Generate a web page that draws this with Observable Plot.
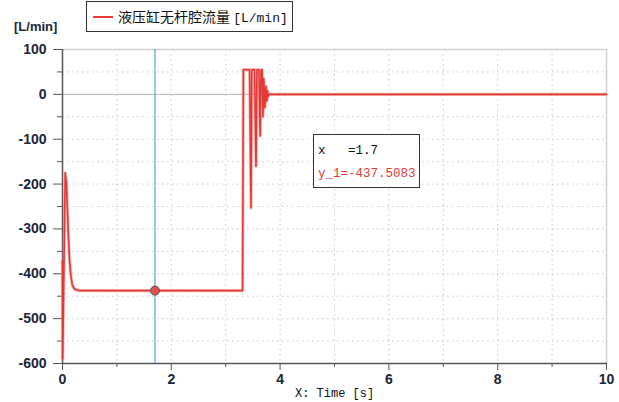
<!DOCTYPE html>
<html>
<head>
<meta charset="utf-8">
<script src="https://cdn.jsdelivr.net/npm/d3@7"></script>
<script src="https://cdn.jsdelivr.net/npm/@observablehq/plot@0.6"></script>
<style>
  body { margin: 0; background: #fff; }
  #wrap { position: relative; width: 619px; height: 402px; overflow: hidden; }
  #wrap svg { position: absolute; left: 0; top: 0; }
  .ov { position: absolute; white-space: nowrap; }
  #legend { left: 86px; top: 1px; width: 207px; height: 31px; border: 1px solid #333; background: #fff; box-sizing: border-box; }
  #legend .sw { position: absolute; left: 6px; top: 14px; width: 20px; height: 2px; background: #e53935; }
  #legend .tx { position: absolute; left: 31px; top: 5px; font: 14px "Noto Sans CJK SC", sans-serif; line-height: 18px; color: #111; }
  #legend .tx span { font: 13px "Liberation Mono", monospace; }
  #unit { left: 14px; top: 19px; font: bold 13px "Liberation Sans", Arial, sans-serif; color: #1b2636; }
  #xlabel { left: 295px; top: 388px; font: 12px "Liberation Mono", monospace; color: #111; line-height: 13px; }
  #cursor { left: 313px; top: 134px; width: 107px; height: 54px; border: 1px solid #333; background: #fff; box-sizing: border-box; font: 12.5px "Liberation Mono", monospace; line-height: 15px; }
  #cursor .l1 { position: absolute; left: 4px; top: 9px; color: #111; }
  #cursor .l2 { position: absolute; left: 4px; top: 32px; color: #e53935; }
</style>
</head>
<body>
<div id="wrap"></div>
<script>
// time [s]
const time = [0, 0.003, 0.05, 0.07, 0.09, 0.11, 0.13, 0.15, 0.18, 0.22, 0.3,
  3.31, 3.325, 3.44, 3.465, 3.48, 3.53, 3.557, 3.575, 3.61, 3.634, 3.65, 3.67,
  3.685, 3.70, 3.72, 3.74, 3.757, 3.77, 3.78, 3.80, 10];
// 液压缸无杆腔流量 [L/min]
const flow = [-370, -590, -175, -195, -255, -320, -370, -400, -425, -434, -437.5,
  -437.5, 55, 55, -253, 55, 55, -160, 55, 55, -93, 55, 55,
  -50, 35, -30, 18, -15, 8, -5, 0, 0];
const cursorX = [1.7];
const cursorY = [-437.5083];
const yMajor = [-600, -500, -400, -300, -200, -100, 0, 100];
const yMinor = [-550, -450, -350, -250, -150, -50, 50];
const xMajor = [0, 2, 4, 6, 8, 10];
const xMinor = [1, 3, 5, 7, 9];
const seriesName = "液压缸无杆腔流量";
const unit = "[L/min]";

const data = time.map((t, i) => ({t, v: flow[i]}));
const gridCol = "#c8c8c8";
const axisCol = "#555";

const chart = Plot.plot({
  width: 619,
  height: 402,
  marginTop: 49,
  marginBottom: 39,
  marginLeft: 62,
  marginRight: 13,
  x: {domain: [0, 10]},
  y: {domain: [-600, 100]},
  style: {fontFamily: "'Liberation Sans', Arial, sans-serif", fontSize: "14px", fontWeight: "bold", color: "#1b2636", background: "transparent"},
  marks: [
    Plot.ruleY([...yMajor, ...yMinor].filter(d => d !== 0 && d !== 100 && d !== -600), {stroke: gridCol, strokeDasharray: "1.5,3.5", strokeOpacity: 1}),
    Plot.ruleX([...xMajor, ...xMinor].filter(d => d !== 0 && d !== 10), {stroke: gridCol, strokeDasharray: "1.5,3.5", strokeOpacity: 1}),
    Plot.ruleY([0], {stroke: "#b4b4b4", strokeWidth: 1}),
    Plot.ruleY([100], {stroke: "#d0d0d0", strokeWidth: 1.5}),
    Plot.ruleX([10], {stroke: "#d0d0d0", strokeWidth: 1.5}),
    Plot.axisY({ticks: yMinor, tickSize: 5, text: null, stroke: axisCol}),
    Plot.axisY({ticks: yMajor, tickSize: 9, tickPadding: 7, tickFormat: d => String(d), stroke: axisCol, label: null, fontSize: 14, fontWeight: "bold", fill: "#1b2636"}),
    Plot.axisX({ticks: xMinor, tickSize: 4, text: null, stroke: axisCol}),
    Plot.axisX({ticks: xMajor, tickSize: 7, tickPadding: 4, tickFormat: d => String(d), stroke: axisCol, label: null, fontSize: 14, fontWeight: "bold", fill: "#1b2636"}),
    Plot.ruleX([0], {stroke: axisCol, strokeWidth: 1.5}),
    Plot.ruleY([-600], {stroke: axisCol, strokeWidth: 1.5}),
    Plot.line(data, {x: "t", y: "v", stroke: "#f08a88", strokeWidth: 3.2, strokeOpacity: 0.6, curve: "linear"}),
    Plot.line(data, {x: "t", y: "v", stroke: "#e53935", strokeWidth: 1.6, curve: "linear"}),
    Plot.ruleX(cursorX, {stroke: "#3d8fd8", strokeWidth: 1}),
    Plot.dot(cursorX.map((x, i) => ({x, y: cursorY[i]})), {x: "x", y: "y", r: 4.5, fill: "#d9534f", stroke: "#555", strokeWidth: 1})
  ]
});

const wrap = document.getElementById("wrap");
wrap.appendChild(chart);

function ov(id, html) {
  const d = document.createElement("div");
  d.className = "ov";
  d.id = id;
  d.innerHTML = html;
  wrap.appendChild(d);
}
ov("legend", `<div class="sw"></div><div class="tx">${seriesName} <span>${unit}</span></div>`);
ov("unit", unit);
ov("xlabel", "X: Time [s]");
ov("cursor", `<div class="l1">x&nbsp;&nbsp;&nbsp;=${cursorX[0]}</div><div class="l2">y_1=${cursorY[0]}</div>`);
</script>
</body>
</html>
